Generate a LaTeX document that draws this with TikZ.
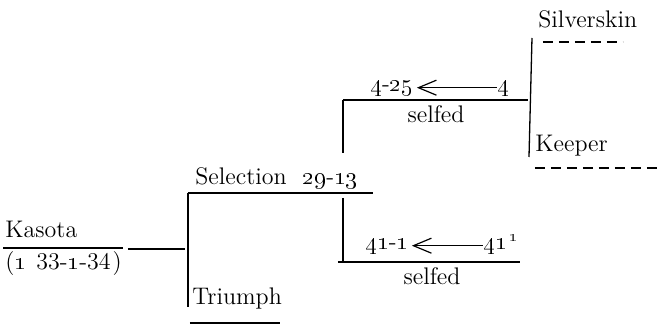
\documentclass[tikz,border=0pt]{standalone}
\usepackage{tikz}
\usetikzlibrary{arrows.meta}
\begin{document}
\begin{tikzpicture}[x=0.5pt,y=-0.5pt]
\tikzstyle{strain}=[anchor=base west, inner sep=0pt, font=\fontsize{12}{14}\selectfont]
\tikzstyle{rule}=[line width=0.65pt]
\tikzstyle{broken}=[line width=0.6pt, dash pattern=on 5pt off 3pt]
\tikzstyle{derive}=[-{Straight Barb[length=9pt,width=7.5pt,line width=0.6pt]}, line width=0.6pt, shorten >=1.5pt]
\useasboundingbox (0,0) rectangle (661,326);

% strains and selections
\node[strain] (kasota) at (5,238) {Kasota};
\node[strain] (kasnum) at (5,270) {(\oldstylenums{1}\hspace{5pt}33-\oldstylenums{1}-34\hspace{1pt})};
\node[strain] (selection) at (195,185) {Selection\hspace{8pt}\oldstylenums{29}-\oldstylenums{13}};
\node[strain] (triumph) at (192,305) {Triumph};
\node[strain] (n425) at (370,92) {\oldstylenums{4}-\oldstylenums{25}};
\node[strain] (n4) at (497,92) {\oldstylenums{4}};
\node[strain, anchor=base] (selfedA) at (436,123) {selfed};
\node[strain] (n411) at (365,250) {\oldstylenums{41}-\oldstylenums{1}};
\node[strain] (n41) at (483,250) {\oldstylenums{41}\textsuperscript{\,\oldstylenums{1}}};
\node[strain, anchor=base] (selfedB) at (432,285) {selfed};
\node[strain] (silverskin) at (538,28) {Silverskin};
\node[strain] (keeper) at (535,152) {Keeper};

% derivation arrows
\draw[derive] (n4.mid west) -- (n425.mid east);
\draw[derive] (n41.mid west) -- (n411.mid east);

% bracket lines
\coordinate (kasL) at (3,248);  \coordinate (kasR) at (123,248);
\coordinate (linkL) at (128,249); \coordinate (linkR) at (185,249);
\coordinate (brA) at (188,193); \coordinate (brB) at (188,307);
\coordinate (selR) at (373,193); \coordinate (triL) at (190,323); \coordinate (triR) at (280,323);
\coordinate (topL) at (343,100); \coordinate (topR) at (528,100);
\coordinate (topV) at (343,153);
\coordinate (lowV) at (343,198); \coordinate (lowL) at (338,262); \coordinate (lowR) at (520,262);
\coordinate (rtA) at (532,38); \coordinate (rtB) at (529,157);

\draw[rule] (kasL) -- (kasR);
\draw[rule] (linkL) -- (linkR);
\draw[rule] (brA) -- (brB);
\draw[rule] (brA) -- (selR);
\draw[rule] (triL) -- (triR);
\draw[rule] (topL) -- (topR);
\draw[rule] (topL) -- (topV);
\draw[rule] (lowV) -- (lowV |- lowL);
\draw[rule] (lowL) -- (lowR);
\draw[rule] (rtA) -- (rtB);
\draw[broken] (543,42) -- (623,42);
\draw[broken] (535,168) -- (660,168);

\end{tikzpicture}
\end{document}
